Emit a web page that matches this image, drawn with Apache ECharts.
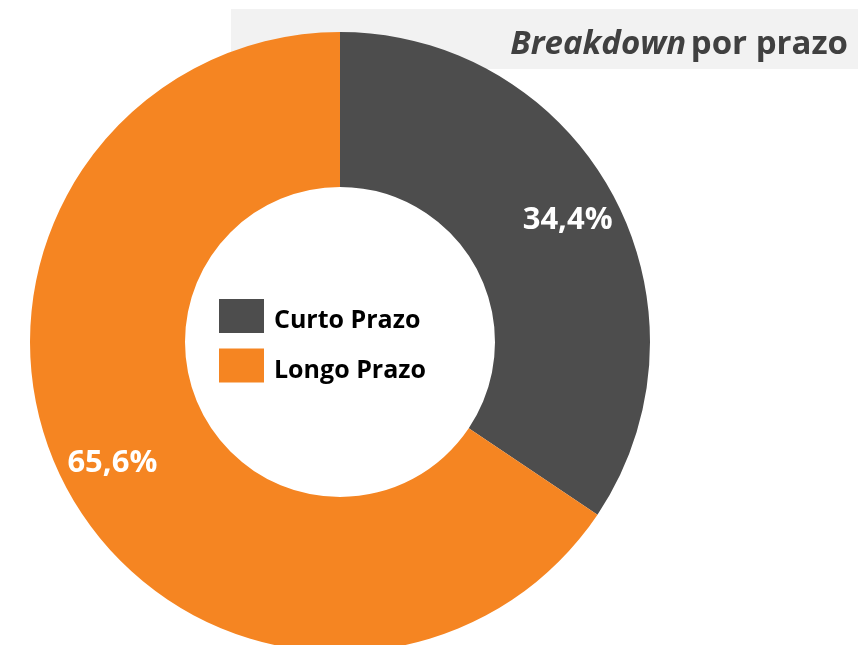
<!DOCTYPE html>
<html>
<head>
<meta charset="utf-8">
<script src="https://cdn.jsdelivr.net/npm/echarts@6/dist/echarts.min.js"></script>
<style>
  html, body { margin: 0; padding: 0; background: #fff; }
  #chart { width: 858px; height: 645px; }
</style>
</head>
<body>
<div id="chart"></div>
<script>
const categories = ["Curto Prazo", "Longo Prazo"];
const values = [34.4, 65.6];
const colors = ["#4d4d4d", "#f58522"];

const chart = echarts.init(document.getElementById("chart"));

const pieData = categories.map((name, i) => ({
  name: name,
  value: values[i],
  itemStyle: { color: colors[i] },
}));

const option = {
  animation: false,
  textStyle: { fontFamily: "Open Sans" },
  graphic: [
    {
      type: "rect",
      z: -10,
      shape: { x: 231, y: 9, width: 627, height: 60 },
      style: { fill: "#f2f2f2" },
    },
  ],
  title: {
    text: "{a|Breakdown} {b|por prazo}",
    right: 5,
    top: 23,
    textStyle: {
      rich: {
        a: { fontSize: 33, fontWeight: "bold", fontStyle: "italic", color: "#404040", fontFamily: "Open Sans" },
        b: { fontSize: 33, fontWeight: "bold", color: "#404040", fontFamily: "Open Sans" },
      },
    },
  },
  legend: {
    orient: "vertical",
    left: 214,
    top: 294,
    itemWidth: 45,
    itemHeight: 34,
    itemGap: 15,
    icon: "rect",
    data: categories,
    formatter: (name) => "{t|" + name + "}",
    textStyle: {
      rich: {
        t: {
          fontSize: 25,
          fontWeight: "bold",
          color: "#000",
          fontFamily: "Open Sans",
          padding: [10, 0, 0, 5],
        },
      },
    },
  },
  series: [
    {
      type: "pie",
      center: [340, 342],
      radius: [155, 310],
      startAngle: 90,
      clockwise: true,
      label: { show: false },
      labelLine: { show: false },
      emphasis: { disabled: true },
      data: pieData,
    },
    {
      // label-only ring so the percentages sit further out than the mid radius
      type: "pie",
      center: [340, 342],
      radius: [200, 310],
      startAngle: 90,
      clockwise: true,
      silent: true,
      itemStyle: { color: "rgba(0,0,0,0)" },
      label: {
        show: true,
        position: "inside",
        color: "#fff",
        fontSize: 31,
        fontWeight: "bold",
        fontFamily: "Open Sans",
        formatter: (p) => p.value.toFixed(1).replace(".", ",") + "%",
      },
      labelLine: { show: false },
      data: categories.map((name, i) => ({ name: name, value: values[i] })),
    },
  ],
};

chart.setOption(option);
</script>
</body>
</html>
